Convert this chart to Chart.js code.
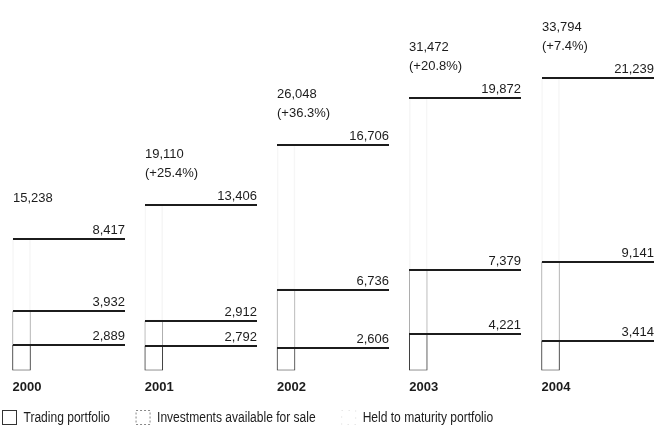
<!DOCTYPE html>
<html>
<head>
<meta charset="utf-8">
<script src="https://cdn.jsdelivr.net/npm/chart.js@4.4.1/dist/chart.umd.min.js"></script>
<style>
  html, body { margin: 0; padding: 0; background: #fff; }
  #wrap { width: 655px; height: 432px; position: relative; }
</style>
</head>
<body>
<div id="wrap"><canvas id="chart"></canvas></div>
<script>
var years = ["2000", "2001", "2002", "2003", "2004"];
var tradingPortfolio = [2889, 2792, 2606, 4221, 3414];
var availableForSale = [3932, 2912, 6736, 7379, 9141];
var heldToMaturity = [8417, 13406, 16706, 19872, 21239];
var seriesNames = ["Trading portfolio", "Investments available for sale", "Held to maturity portfolio"];

var ink = "#1c1c1c";
var numFont = "13px 'Liberation Sans', Arial, sans-serif";
var legendFont = "14px 'Liberation Sans', Arial, sans-serif";
var LINE_LEN = 112;

function fmt(n) {
  return n.toLocaleString("en-US");
}

function points(arr) {
  return arr.map(function (v, i) { return { x: i, y: v }; });
}

// horizontal level lines + value labels + totals
var levelLines = {
  id: "levelLines",
  afterDatasetsDraw: function (chart) {
    var ctx = chart.ctx;
    var tops = [];
    ctx.save();
    chart.data.datasets.forEach(function (ds, d) {
      var meta = chart.getDatasetMeta(d);
      meta.data.forEach(function (bar, i) {
        var left = Math.round(bar.x - bar.width / 2);
        var y = Math.round(bar.y);
        ctx.strokeStyle = ink;
        ctx.lineWidth = 2;
        ctx.beginPath();
        ctx.moveTo(left, y);
        ctx.lineTo(left + LINE_LEN, y);
        ctx.stroke();
        ctx.font = numFont;
        ctx.fillStyle = ink;
        ctx.textAlign = "right";
        ctx.textBaseline = "alphabetic";
        ctx.fillText(fmt(ds.data[i].y), left + LINE_LEN, y - 5);
        tops[i] = { left: left, y: y };
      });
    });

    var totals = years.map(function (_, i) {
      return tradingPortfolio[i] + availableForSale[i] + heldToMaturity[i];
    });
    var lh = 19;
    ctx.textAlign = "left";
    ctx.textBaseline = "middle";
    ctx.font = numFont;
    totals.forEach(function (t, i) {
      var lines = [fmt(t)];
      if (i > 0) {
        var pct = (t / totals[i - 1] - 1) * 100;
        lines.push("(+" + pct.toFixed(1) + "%)");
      }
      var cy = tops[i].y - 41 - (lines.length - 1) * lh / 2;
      lines.forEach(function (s, k) {
        ctx.fillText(s, tops[i].left, cy + k * lh);
      });
    });
    ctx.restore();
  },
};

// legend along the bottom edge, text squeezed to match the condensed face
var bottomLegend = {
  id: "bottomLegend",
  afterDraw: function (chart) {
    var ctx = chart.ctx;
    var styles = [
      { stroke: "#333", dash: [] },
      { stroke: "#888", dash: [2, 2] },
      { stroke: "rgba(0,0,0,0.15)", dash: [1, 6] },
    ];
    var squeeze = 0.86;
    var x = 2.5, top = 410.5, box = 14, gap = 7, pad = 26;
    ctx.save();
    ctx.font = legendFont;
    ctx.textBaseline = "middle";
    ctx.textAlign = "left";
    seriesNames.forEach(function (name, i) {
      var s = styles[i];
      ctx.strokeStyle = s.stroke;
      ctx.lineWidth = 1;
      ctx.setLineDash(s.dash);
      ctx.strokeRect(x, top, box, box);
      ctx.setLineDash([]);
      ctx.fillStyle = ink;
      var tx = x + box + gap;
      ctx.save();
      ctx.translate(tx, top + box / 2 + 1);
      ctx.scale(squeeze, 1);
      ctx.fillText(name, 0, 0);
      ctx.restore();
      x = tx + ctx.measureText(name).width * squeeze + pad;
    });
    ctx.restore();
  },
};

new Chart(document.getElementById("chart"), {
  type: "bar",
  data: {
    datasets: [
      {
        label: seriesNames[0],
        data: points(tradingPortfolio),
        backgroundColor: "#ffffff",
        borderColor: "#333333",
        borderWidth: 1,
        borderSkipped: false,
      },
      {
        label: seriesNames[1],
        data: points(availableForSale),
        backgroundColor: "#ffffff",
        borderColor: "#a8a8a8",
        borderWidth: 1,
        borderSkipped: false,
      },
      {
        label: seriesNames[2],
        data: points(heldToMaturity),
        backgroundColor: "rgba(0,0,0,0)",
        borderColor: "rgba(0,0,0,0.035)",
        borderWidth: 1,
        borderSkipped: false,
      },
    ],
  },
  options: {
    responsive: true,
    maintainAspectRatio: false,
    animation: false,
    datasets: { bar: { barThickness: 18 } },
    layout: { padding: { left: 0, right: 0, top: 0, bottom: 28 } },
    plugins: { legend: { display: false }, tooltip: { enabled: false } },
    scales: {
      x: {
        type: "linear",
        stacked: true,
        offset: false,
        min: -0.1626,
        max: 4.79,
        grid: { display: false, drawTicks: false },
        border: { display: false },
        afterBuildTicks: function (axis) {
          axis.ticks = years.map(function (_, i) { return { value: i }; });
        },
        ticks: {
          autoSkip: false,
          maxRotation: 0,
          align: "start",
          labelOffset: -9,
          padding: 9,
          color: ink,
          font: { family: "'Liberation Sans', Arial, sans-serif", size: 13, weight: "bold" },
          callback: function (v) { return years[v]; },
        },
      },
      y: { display: false, stacked: true, min: 0, max: 42800 },
    },
  },
  plugins: [levelLines, bottomLegend],
});
</script>
</body>
</html>
